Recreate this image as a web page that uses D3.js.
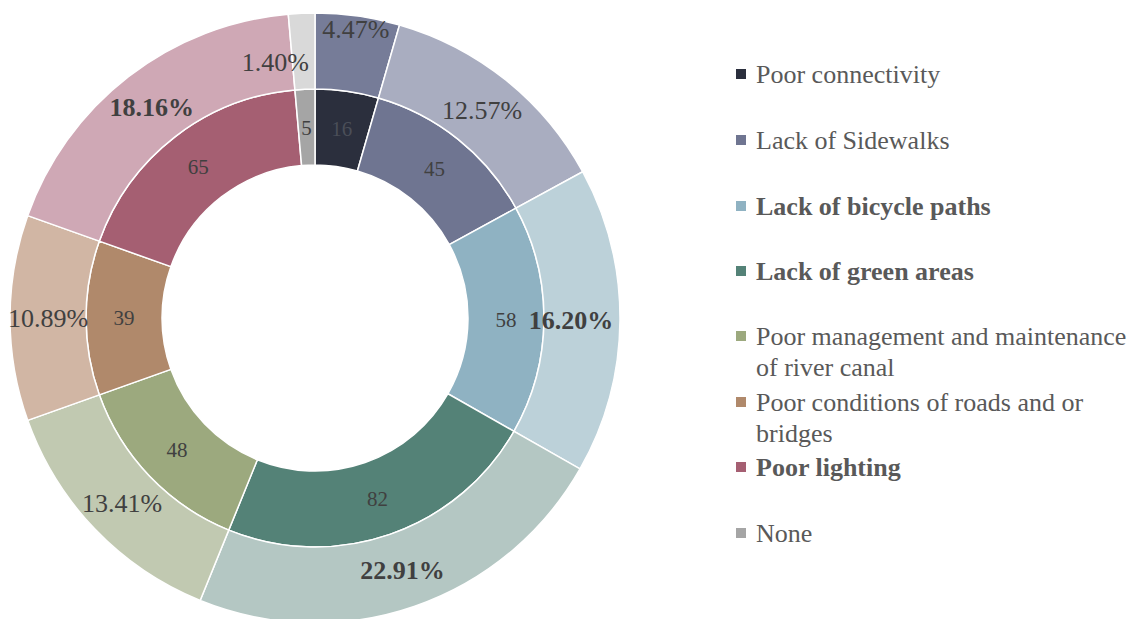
<!DOCTYPE html>
<html>
<head>
<meta charset="utf-8">
<script src="https://cdn.jsdelivr.net/npm/d3@7"></script>
</head>
<body style="margin:0">
<svg id="chart" width="1145" height="619"></svg>
<script>
// Reported problems (counts) and their share of all responses
const categories = [
  "Poor connectivity",
  "Lack of Sidewalks",
  "Lack of bicycle paths",
  "Lack of green areas",
  "Poor management and maintenance of river canal",
  "Poor conditions of roads and or bridges",
  "Poor lighting",
  "None"
];
const counts = [16, 45, 58, 82, 48, 39, 65, 5];
const percentLabels = ["4.47%", "12.57%", "16.20%", "22.91%", "13.41%", "10.89%", "18.16%", "1.40%"];
const legendLines = [
  ["Poor connectivity"],
  ["Lack of Sidewalks"],
  ["Lack of bicycle paths"],
  ["Lack of green areas"],
  ["Poor management and maintenance", "of river canal"],
  ["Poor conditions of roads and or", "bridges"],
  ["Poor lighting"],
  ["None"]
];
const boldCategories = ["Lack of bicycle paths", "Lack of green areas", "Poor lighting"];

// Ring colours
const innerColors = ["#2b2f3d", "#6f7591", "#8fb2c2", "#548277", "#9ca97e", "#b0896b", "#a55f72", "#a5a5a5"];
const outerColors = ["#767c98", "#a9adc0", "#bcd1d9", "#b4c7c3", "#c1c9b1", "#d1b6a4", "#cfa8b5", "#d9d9d9"];

const FONT = '"Liberation Serif", monospace';
const svg = d3.select("#chart");
const cx = 315, cy = 318;
const rHole = 153, rMid = 229, rOuter = 305;

const pie = d3.pie().sort(null).value(d => d);
const arcs = pie(counts);

const innerArc = d3.arc().innerRadius(rHole).outerRadius(rMid);
const outerArc = d3.arc().innerRadius(rMid).outerRadius(rOuter);

const g = svg.append("g").attr("transform", `translate(${cx},${cy})`);

g.selectAll("path.inner").data(arcs).join("path")
  .attr("class", "inner")
  .attr("d", innerArc)
  .attr("fill", (d, i) => innerColors[i])
  .attr("stroke", "#fff").attr("stroke-width", 1.5);

g.selectAll("path.outer").data(arcs).join("path")
  .attr("class", "outer")
  .attr("d", outerArc)
  .attr("fill", (d, i) => outerColors[i])
  .attr("stroke", "#fff").attr("stroke-width", 1.5);

// Count labels in the inner ring
g.selectAll("text.count").data(arcs).join("text")
  .attr("class", "count")
  .attr("transform", d => `translate(${innerArc.centroid(d)})`)
  .attr("text-anchor", "middle")
  .attr("dy", "0.35em")
  .attr("font-size", 21)
  .style("font-family", FONT)
  .attr("fill", (d, i) => i === 0 ? "#4a4e58" : "#404040")
  .text(d => d.data);

// Percentage labels in the outer ring; narrow slices get their label shifted
const labelRadius = i => (i === 0 ? 292 : i === 7 ? 259 : i === 2 ? 256 : 267);
const labelAngleShift = i => (i === 7 ? -0.11 : 0);
g.selectAll("text.pct").data(arcs).join("text")
  .attr("class", "pct")
  .attr("transform", (d, i) => {
    const a = (d.startAngle + d.endAngle) / 2 + labelAngleShift(i);
    const r = labelRadius(i);
    return `translate(${r * Math.sin(a)},${-r * Math.cos(a)})`;
  })
  .attr("text-anchor", "middle")
  .attr("dy", "0.35em")
  .attr("font-size", 26)
  .attr("font-weight", (d, i) => boldCategories.includes(categories[i]) ? "bold" : "normal")
  .style("font-family", FONT)
  .attr("fill", "#404040")
  .text((d, i) => percentLabels[i]);

// Legend
const legendRowY = [74, 140, 206, 271, 336, 402, 467, 533];
const legend = svg.append("g").attr("transform", "translate(736,0)");
categories.forEach((c, i) => {
  const y = legendRowY[i];
  legend.append("rect")
    .attr("x", 0).attr("y", y - 5)
    .attr("width", 10).attr("height", 10)
    .attr("fill", innerColors[i]);
  const t = legend.append("text")
    .attr("x", 20).attr("y", y)
    .attr("font-size", 26)
    .attr("fill", "#595959")
    .attr("font-weight", boldCategories.includes(c) ? "bold" : "normal")
    .style("font-family", FONT);
  legendLines[i].forEach((line, k) => {
    t.append("tspan").attr("x", 20).attr("dy", k === 0 ? "0.35em" : 31).text(line);
  });
});
</script>
</body>
</html>
